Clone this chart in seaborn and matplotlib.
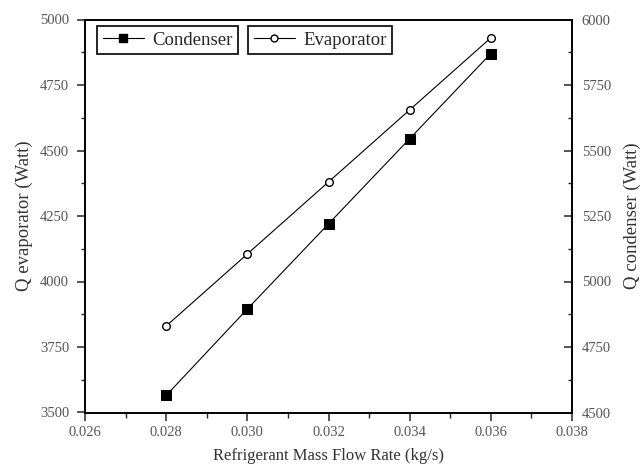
import matplotlib
matplotlib.use("Agg")
import matplotlib.pyplot as plt
from matplotlib.ticker import MultipleLocator, FormatStrFormatter
from matplotlib.lines import Line2D
import seaborn as sns
import pandas as pd

# Refrigerant mass flow rate (kg/s)
flow_rate = [0.028, 0.030, 0.032, 0.034, 0.036]
# Heat duty of each exchanger (W)
q_condenser = [4565, 4895, 5220, 5545, 5870]
q_evaporator = [3830, 4105, 4380, 4655, 4930]

df = pd.DataFrame({"flow": flow_rate, "cond": q_condenser, "evap": q_evaporator})

sns.set_theme(style="white")
plt.rcParams["font.family"] = ["Liberation Serif", "DejaVu Serif"]
plt.rcParams["mathtext.fontset"] = "stix"

fig = plt.figure(figsize=(6.4, 4.75), dpi=100)
ax = fig.add_axes([85 / 640, 1 - 412.5 / 475, (572 - 85) / 640, (412.5 - 19.5) / 475])
ax2 = ax.twinx()

line_kw = dict(color="black", linewidth=0.8)
sns.lineplot(data=df, x="flow", y="evap", ax=ax, marker="o", markersize=5.5,
             markerfacecolor="white", markeredgecolor="black", markeredgewidth=1.0,
             **line_kw)
sns.lineplot(data=df, x="flow", y="cond", ax=ax2, marker="s", markersize=7,
             markerfacecolor="black", markeredgecolor="black", **line_kw)

ax.set_xlim(0.026, 0.038)
ax.set_ylim(3500, 5000)
ax2.set_ylim(4500, 6000)

ax.xaxis.set_major_locator(MultipleLocator(0.002))
ax.xaxis.set_minor_locator(MultipleLocator(0.001))
ax.xaxis.set_major_formatter(FormatStrFormatter("%.3f"))
for a in (ax, ax2):
    a.yaxis.set_major_locator(MultipleLocator(250))
    a.yaxis.set_minor_locator(MultipleLocator(125))

tick_color = "#555555"
ax.tick_params(axis="x", which="major", direction="out", length=6, width=1.1,
               pad=4, labelsize=10.5, labelcolor=tick_color, bottom=True)
ax.tick_params(axis="x", which="minor", direction="out", length=3.5, width=1.0, bottom=True)
ax.tick_params(axis="y", which="major", direction="out", length=6, width=1.1,
               pad=5.5, labelsize=10.5, labelcolor=tick_color, left=True, right=False)
ax.tick_params(axis="y", which="minor", direction="out", length=3, width=1.0,
               left=True, right=False)
ax2.tick_params(axis="y", which="major", direction="in", length=6, width=1.1,
                pad=7, labelsize=10.5, labelcolor=tick_color, right=True, left=False)
ax2.tick_params(axis="y", which="minor", direction="in", length=3, width=1.0,
                right=True, left=False)

for a in (ax, ax2):
    for s in a.spines.values():
        s.set_color("black")
        s.set_linewidth(1.2)

label_color = "#333333"
ax.set_xlabel("Refrigerant Mass Flow Rate (kg/s)", fontsize=12, color=label_color, labelpad=6)
ax.set_ylabel("Q evaporator (Watt)", fontsize=13.5, color=label_color, labelpad=5)
ax2.set_ylabel("Q condenser (Watt)", fontsize=13.5, color=label_color, labelpad=9)

# Two separate boxed legends, one per exchanger
h_cond = Line2D([], [], color="black", linewidth=0.8, marker="s", markersize=5.5,
                markerfacecolor="black", markeredgecolor="black")
h_evap = Line2D([], [], color="black", linewidth=0.8, marker="o", markersize=5,
                markerfacecolor="white", markeredgecolor="black")
leg_kw = dict(loc="upper left", bbox_transform=fig.transFigure, borderaxespad=0,
              fancybox=False, framealpha=1, edgecolor="black", fontsize=13.5,
              handlelength=2.2, handletextpad=0.45, borderpad=0.3)
leg1 = ax2.legend([h_cond], ["Condenser"], bbox_to_anchor=(97 / 640, 1 - 26 / 475), **leg_kw)
leg1.get_frame().set_linewidth(1.2)
ax2.add_artist(leg1)
leg2 = ax2.legend([h_evap], ["Evaporator"], bbox_to_anchor=(248 / 640, 1 - 26 / 475), **leg_kw)
leg2.get_frame().set_linewidth(1.2)
if ax.get_legend() is not None:
    ax.get_legend().remove()

fig.savefig("out.png", dpi=100)
